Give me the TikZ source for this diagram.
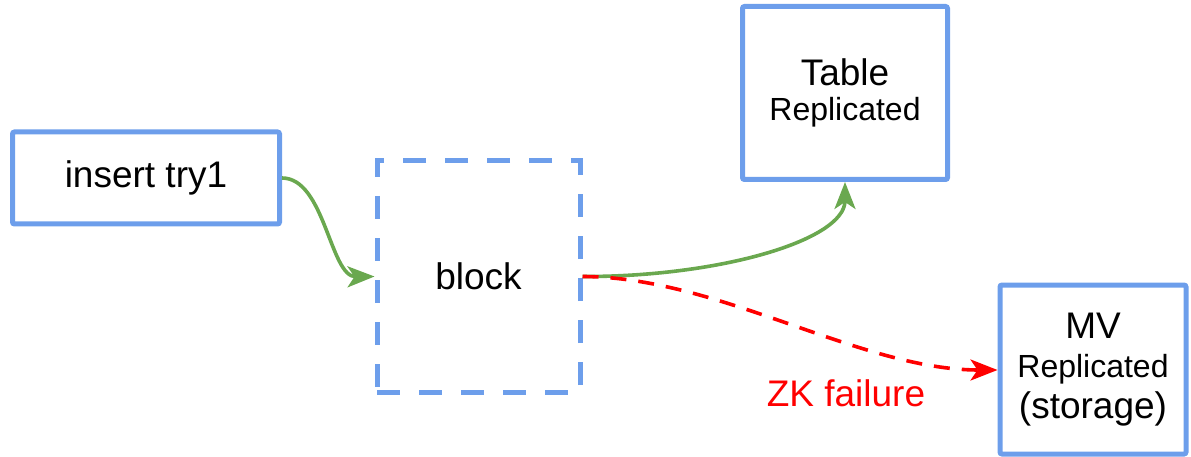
\documentclass[tikz,border=0pt]{standalone}
\usepackage{fontspec}
\setmainfont{Liberation Sans}
\usetikzlibrary{arrows.meta}
\definecolor{boxblue}{HTML}{6D9EEB}
\definecolor{arrgreen}{HTML}{6AA84F}
\definecolor{arrred}{HTML}{FF0000}
\tikzset{
  solidbox/.style={draw=boxblue, line width=5pt, rounded corners=2pt, inner sep=0pt, align=center,
    font=\fontsize{37}{41}\selectfont},
  dashbox/.style={solidbox, dash pattern=on 23pt off 19pt, rounded corners=0pt},
  greenarrow/.style={draw=arrgreen, line width=3.6pt, -{Stealth[length=27pt, width=21pt, inset=7pt]}},
  redarrow/.style={draw=arrred, line width=3.6pt, dash pattern=on 16pt off 12pt, -{Stealth[length=27pt, width=21pt, inset=7pt]}},
}
\newcommand{\smalltxt}[1]{{\fontsize{32}{39}\selectfont #1}}
\begin{document}
\begin{tikzpicture}[x=1pt, y=-1pt]
\useasboundingbox (0,0) rectangle (1191,457);
\node[solidbox, minimum width=267pt, minimum height=92pt] (ins) at (146,178) {insert try1};
\node[dashbox, minimum width=203pt, minimum height=231pt] (blk) at (478.5,276.5) {block};
\node[solidbox, minimum width=205pt, minimum height=173pt] (tab) at (845,93) {\raisebox{-4pt}{Table}\\[-2pt]\smalltxt{Replicated}};
\node[solidbox, minimum width=186pt, minimum height=169pt] (mv) at (1093,369.5) {MV\\[-2pt]\smalltxt{Replicated}\\[0pt]{(storage)}};
\coordinate (mvW) at (998,370);
\draw[greenarrow] (ins.east) .. controls (325,178) and (330,277) .. (blk.west);
\draw[greenarrow] (blk.east) .. controls (720,277) and (845,240) .. (tab.south);
\draw[redarrow] (blk.east) .. controls (720,277) and (860,370) .. (mv.west |- mvW);
\node[text=arrred, font=\fontsize{37}{41}\selectfont, inner sep=0pt] (zk) at (846,393) {ZK failure};
\end{tikzpicture}
\end{document}
